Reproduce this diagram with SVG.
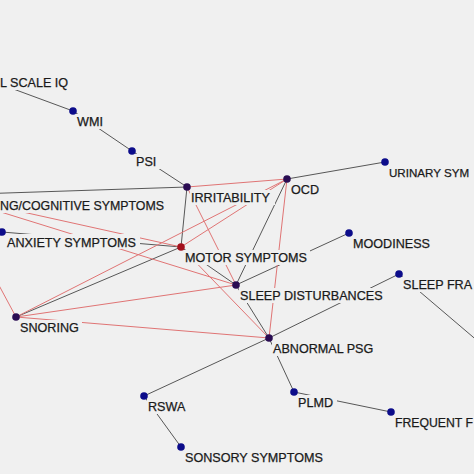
<svg xmlns="http://www.w3.org/2000/svg" width="474" height="474" viewBox="0 0 474 474">
<style>
.bg{fill:#f0f0f0}
.e{stroke:#575757;stroke-width:1;fill:none}
.r{stroke:#e07474;stroke-width:1;fill:none}
.lb{fill:#f0f0f0}
.t{font-family:"Liberation Sans",Arial,sans-serif;font-size:12.6px;fill:#1a1a1a;stroke:#1a1a1a;stroke-width:0.25}
.nb{fill:#0c0c8a}
.np{fill:#2a0c52}
.nr{fill:#a3101c}
</style>
<rect class="bg" x="0" y="0" width="474" height="474"/>
<g id="connectors">
<line class="e" x1="-30" y1="73" x2="73" y2="111"/>
<line class="e" x1="73" y1="111" x2="132" y2="151"/>
<line class="e" x1="132" y1="151" x2="187" y2="187"/>
<line class="e" x1="-54" y1="195" x2="187" y2="187"/>
<line class="e" x1="187" y1="187" x2="181" y2="247"/>
<line class="e" x1="287" y1="179" x2="385" y2="162"/>
<line class="e" x1="287" y1="179" x2="236" y2="285"/>
<line class="e" x1="181" y1="247" x2="236" y2="285"/>
<line class="e" x1="236" y1="285" x2="349" y2="233"/>
<line class="e" x1="2" y1="232" x2="181" y2="247"/>
<line class="e" x1="181" y1="247" x2="16" y2="317"/>
<line class="e" x1="236" y1="285" x2="269" y2="338"/>
<line class="e" x1="399" y1="274" x2="269" y2="338"/>
<line class="e" x1="269" y1="338" x2="144" y2="396"/>
<line class="e" x1="269" y1="338" x2="294" y2="392"/>
<line class="e" x1="294" y1="392" x2="391" y2="412"/>
<line class="e" x1="144" y1="396" x2="181" y2="447"/>
<line class="e" x1="399" y1="274" x2="520" y2="377"/>
<line class="r" x1="187" y1="187" x2="287" y2="179"/>
<line class="r" x1="187" y1="187" x2="236" y2="285"/>
<line class="r" x1="287" y1="179" x2="269" y2="338"/>
<line class="r" x1="16" y1="317" x2="287" y2="179"/>
<line class="r" x1="181" y1="247" x2="287" y2="179"/>
<line class="r" x1="-54" y1="195" x2="236" y2="285"/>
<line class="r" x1="-54" y1="195" x2="181" y2="247"/>
<line class="r" x1="16" y1="317" x2="236" y2="285"/>
<line class="r" x1="16" y1="317" x2="269" y2="338"/>
<line class="r" x1="181" y1="247" x2="269" y2="338"/>
<line class="r" x1="-20" y1="250" x2="16" y2="317"/>
</g>
<g id="fsiq"><rect class="lb" x="0" y="75" width="70" height="15"/><text class="t" x="0" y="87">L SCALE IQ</text></g>
<g id="learning"><rect class="lb" x="0" y="198" width="166" height="15"/><text class="t" x="0" y="210" textLength="164" lengthAdjust="spacingAndGlyphs">NG/COGNITIVE SYMPTOMS</text></g>
<g id="wmi"><rect class="lb" x="76" y="114" width="31" height="15"/><text class="t" x="77" y="126">WMI</text><circle class="nb" cx="73" cy="111" r="3.8"/></g>
<g id="psi"><rect class="lb" x="135" y="154" width="25" height="15"/><text class="t" x="136" y="166">PSI</text><circle class="nb" cx="132" cy="151" r="3.8"/></g>
<g id="irritability"><rect class="lb" x="190" y="190" width="85" height="15"/><text class="t" x="191" y="202">IRRITABILITY</text><circle class="np" cx="187" cy="187" r="3.8"/></g>
<g id="ocd"><rect class="lb" x="290" y="182" width="33" height="15"/><text class="t" x="291" y="194">OCD</text><circle class="np" cx="287" cy="179" r="3.8"/></g>
<g id="urinary"><rect class="lb" x="388" y="165" width="86" height="15"/><text class="t" x="389" y="177" style="font-size:11.6px">URINARY SYM</text><circle class="nb" cx="385" cy="162" r="3.8"/></g>
<g id="moodiness"><rect class="lb" x="352" y="236" width="82" height="15"/><text class="t" x="353" y="248">MOODINESS</text><circle class="nb" cx="349" cy="233" r="3.8"/></g>
<g id="anxiety"><rect class="lb" x="6" y="234" width="134" height="15"/><text class="t" x="7" y="247">ANXIETY SYMPTOMS</text><circle class="nb" cx="2" cy="232" r="3.8"/></g>
<g id="motor"><rect class="lb" x="184" y="250" width="126" height="15"/><text class="t" x="185" y="262">MOTOR SYMPTOMS</text><circle class="nr" cx="181" cy="247" r="3.8"/></g>
<g id="sleep-disturbances"><rect class="lb" x="239" y="288" width="147" height="15"/><text class="t" x="240" y="300">SLEEP DISTURBANCES</text><circle class="np" cx="236" cy="285" r="3.8"/></g>
<g id="sleep-fra"><rect class="lb" x="402" y="277" width="72" height="15"/><text class="t" x="403" y="289">SLEEP FRA</text><circle class="nb" cx="399" cy="274" r="3.8"/></g>
<g id="snoring"><rect class="lb" x="19" y="320" width="63" height="15"/><text class="t" x="20" y="332">SNORING</text><circle class="np" cx="16" cy="317" r="3.8"/></g>
<g id="abnormal-psg"><rect class="lb" x="272" y="341" width="105" height="15"/><text class="t" x="273" y="353">ABNORMAL PSG</text><circle class="np" cx="269" cy="338" r="3.8"/></g>
<g id="rswa"><rect class="lb" x="147" y="399" width="42" height="15"/><text class="t" x="148" y="411">RSWA</text><circle class="nb" cx="144" cy="396" r="3.8"/></g>
<g id="plmd"><rect class="lb" x="297" y="395" width="40" height="15"/><text class="t" x="298" y="407">PLMD</text><circle class="nb" cx="294" cy="392" r="3.8"/></g>
<g id="frequent"><rect class="lb" x="394" y="415" width="80" height="15"/><text class="t" x="395" y="427" textLength="78" lengthAdjust="spacingAndGlyphs">FREQUENT F</text><circle class="nb" cx="391" cy="412" r="3.8"/></g>
<g id="sonsory"><rect class="lb" x="184" y="450" width="143" height="15"/><text class="t" x="185" y="462">SONSORY SYMPTOMS</text><circle class="nb" cx="181" cy="447" r="3.8"/></g>
</svg>
